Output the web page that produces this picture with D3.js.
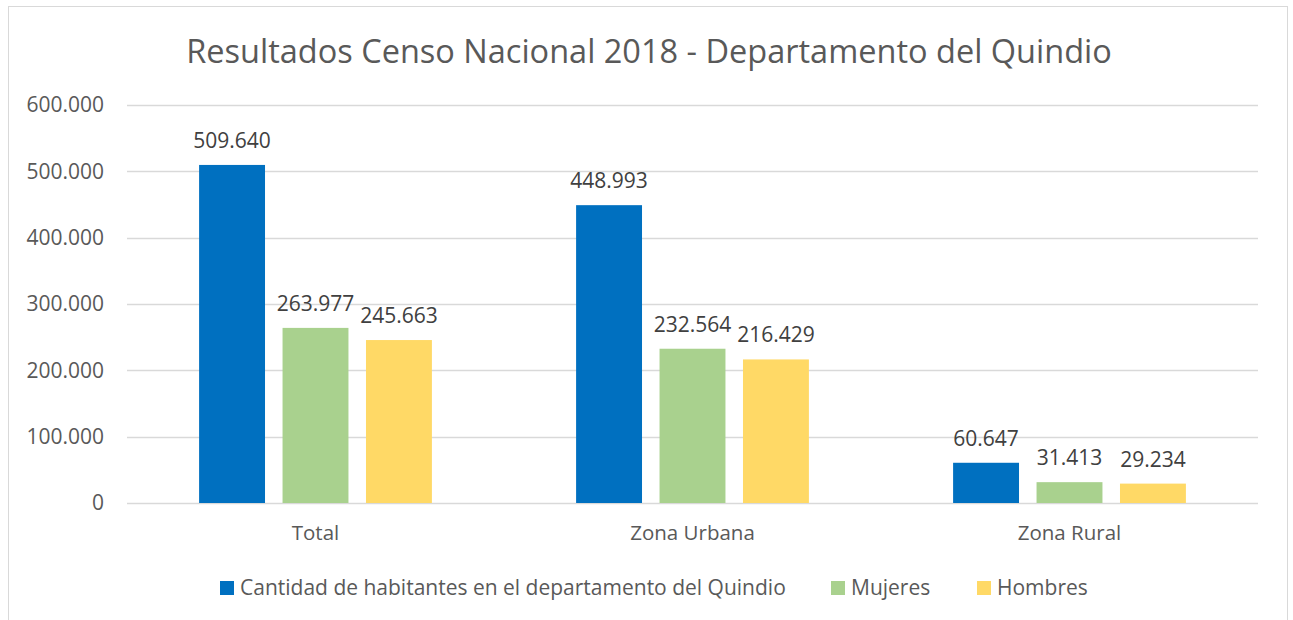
<!DOCTYPE html>
<html>
<head>
<meta charset="utf-8">
<script src="https://cdn.jsdelivr.net/npm/d3@7"></script>
<style>
  body { margin: 0; background: #fff; }
  text { font-family: "Open Sans", sans-serif; }
</style>
</head>
<body>
<div id="chart"></div>
<script>
// chart data
var categories = ["Total", "Zona Urbana", "Zona Rural"];
var seriesNames = ["Cantidad de habitantes en el departamento del Quindio", "Mujeres", "Hombres"];
var habitantes = [509640, 448993, 60647];
var mujeres = [263977, 232564, 31413];
var hombres = [245663, 216429, 29234];
var yTicks = [0, 100000, 200000, 300000, 400000, 500000, 600000];
var colors = ["#0070c0", "#a9d18e", "#ffd966"];

var seriesValues = [habitantes, mujeres, hombres];

var width = 1293, height = 620;
var margin = { top: 105, right: 35, bottom: 117, left: 127 };

var locale = d3.formatLocale({ decimal: ",", thousands: ".", grouping: [3], currency: ["", ""] });
var fmt = locale.format(",d");

var svg = d3.select("#chart")
    .append("svg")
    .attr("width", width)
    .attr("height", height);

// outer border of the chart area
svg.append("rect")
    .attr("x", 8.5)
    .attr("y", 6.5)
    .attr("width", 1279)
    .attr("height", 640)
    .attr("fill", "#fff")
    .attr("stroke", "#d9d9d9")
    .attr("stroke-width", 1);

// title
svg.append("text")
    .attr("x", 649)
    .attr("y", 63)
    .attr("text-anchor", "middle")
    .attr("fill", "#595959")
    .style("font-size", "32.5px")
    .text("Resultados Censo Nacional 2018 - Departamento del Quindio");

var plotW = width - margin.left - margin.right,
    plotH = height - margin.top - margin.bottom;

var g = svg.append("g")
    .attr("transform", "translate(" + margin.left + "," + margin.top + ")");

var x0 = d3.scaleBand()
    .domain(categories)
    .range([0, plotW])
    .paddingInner(0.336)
    .paddingOuter(0.168);

var x1 = d3.scaleBand()
    .domain(d3.range(seriesNames.length))
    .range([0, x0.bandwidth()])
    .paddingInner(0.21)
    .paddingOuter(0.105);

var y = d3.scaleLinear()
    .domain([0, 600000])
    .range([plotH, 0]);

// grid lines
g.append("g")
    .selectAll("line")
    .data(yTicks)
    .join("line")
    .attr("x1", 0)
    .attr("x2", plotW)
    .attr("y1", function(d) { return Math.round(y(d)) + 0.5; })
    .attr("y2", function(d) { return Math.round(y(d)) + 0.5; })
    .attr("stroke", "#d9d9d9")
    .attr("stroke-width", 1.5);

// y axis labels
var yAxis = d3.axisLeft(y)
    .tickValues(yTicks)
    .tickSize(0)
    .tickPadding(23)
    .tickFormat(fmt);
var yG = g.append("g").call(yAxis);
yG.select(".domain").remove();
yG.selectAll("text")
    .attr("fill", "#595959")
    .style("font-size", "21px")
    .style("font-family", "'Open Sans', sans-serif");

// x axis labels
var xAxis = d3.axisBottom(x0).tickSize(0).tickPadding(22);
var xG = g.append("g")
    .attr("transform", "translate(0," + plotH + ")")
    .call(xAxis);
xG.select(".domain").remove();
xG.selectAll("text")
    .attr("fill", "#595959")
    .style("font-size", "20.5px")
    .style("font-family", "'Open Sans', sans-serif");

// bars
var groups = g.append("g")
    .selectAll("g")
    .data(categories)
    .join("g")
    .attr("transform", function(d) { return "translate(" + x0(d) + ",0)"; });

groups.selectAll("rect")
    .data(function(d, i) {
        return seriesValues.map(function(s, k) { return { k: k, v: s[i] }; });
    })
    .join("rect")
    .attr("x", function(d) { return x1(d.k); })
    .attr("y", function(d) { return y(d.v); })
    .attr("width", x1.bandwidth())
    .attr("height", function(d) { return plotH - y(d.v); })
    .attr("fill", function(d) { return colors[d.k]; });

// data labels
groups.selectAll("text.lbl")
    .data(function(d, i) {
        return seriesValues.map(function(s, k) { return { k: k, v: s[i] }; });
    })
    .join("text")
    .attr("class", "lbl")
    .attr("x", function(d) { return x1(d.k) + x1.bandwidth() / 2; })
    .attr("y", function(d) { return y(d.v) - 17; })
    .attr("text-anchor", "middle")
    .attr("fill", "#404040")
    .style("font-size", "21px")
    .text(function(d) { return fmt(d.v); });

// legend
var legendX = [220, 831, 977];
var legend = svg.append("g")
    .selectAll("g")
    .data(seriesNames)
    .join("g")
    .attr("transform", function(d, i) { return "translate(" + legendX[i] + ",581)"; });
legend.append("rect")
    .attr("width", 14)
    .attr("height", 14)
    .attr("fill", function(d, i) { return colors[i]; });
legend.append("text")
    .attr("x", 20)
    .attr("y", 14)
    .attr("fill", "#595959")
    .style("font-size", "21px")
    .text(function(d) { return d; });
</script>
</body>
</html>
